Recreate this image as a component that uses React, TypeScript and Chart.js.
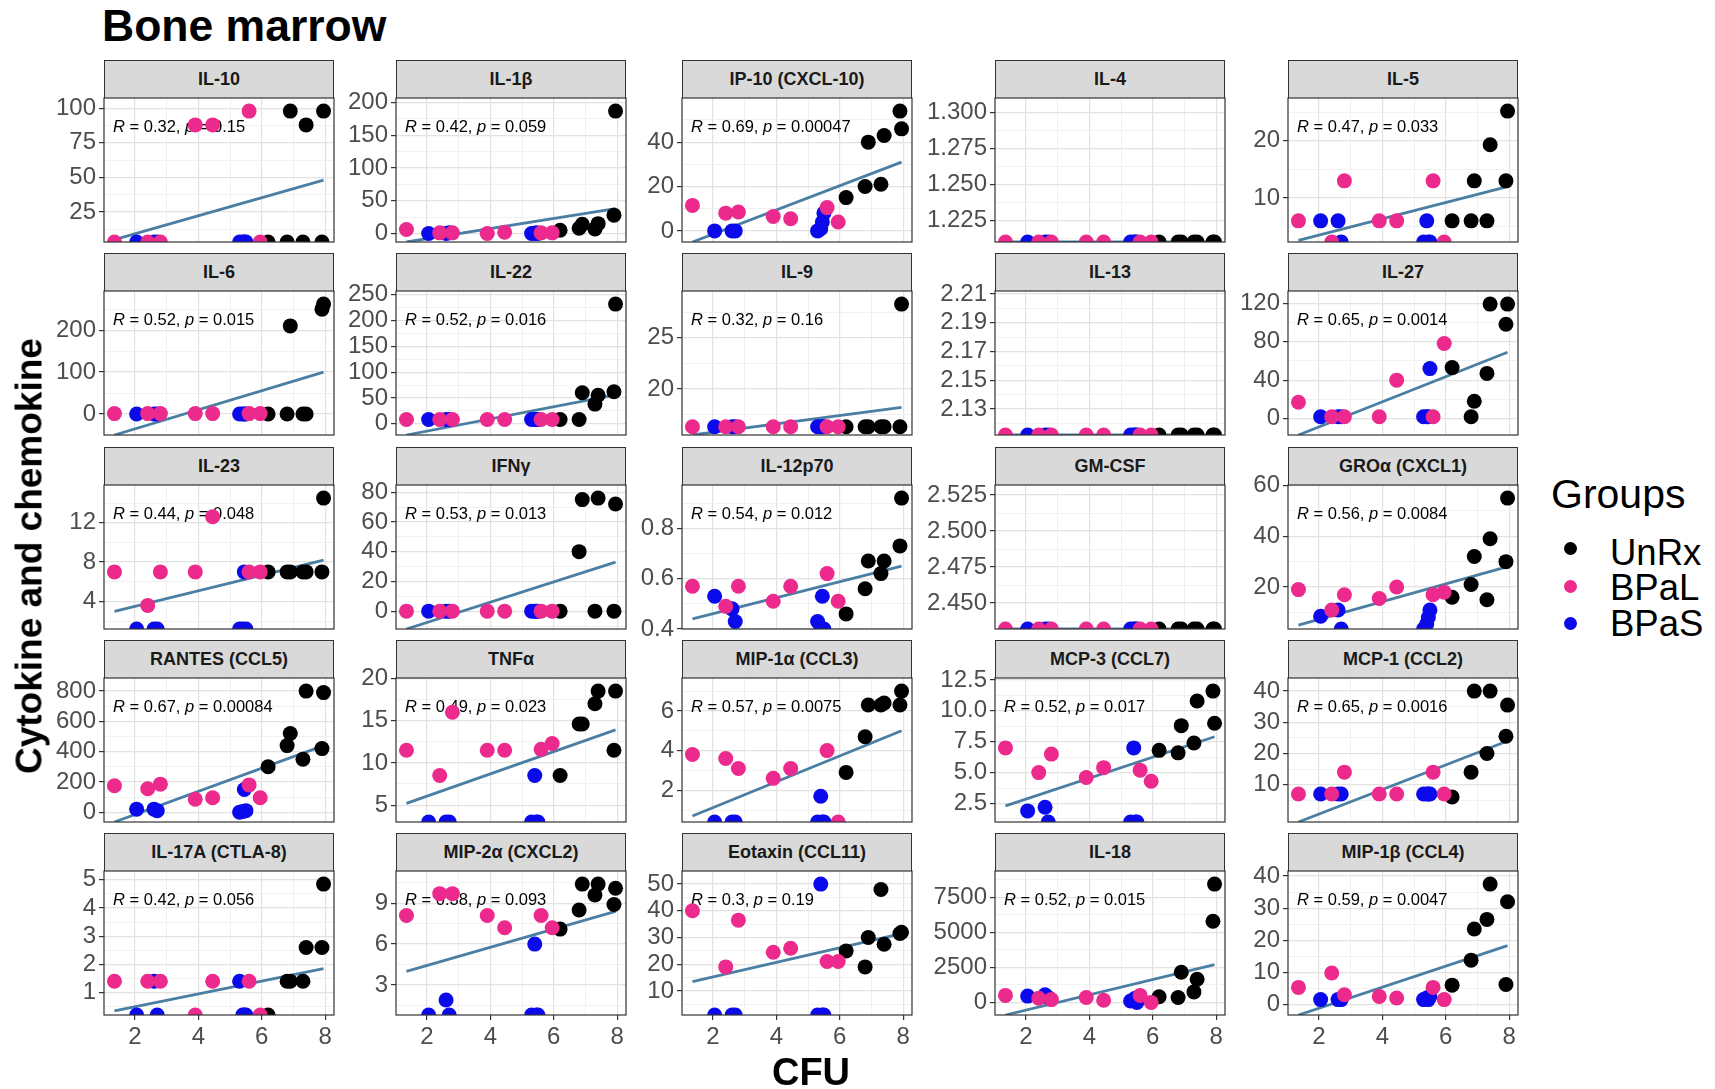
import React, { useEffect, useRef } from "react";
import { Chart, registerables } from "chart.js";

Chart.register(...registerables);

const FONT = '"Liberation Sans", Arial, Helvetica, sans-serif';

// Treatment groups and their colours
const groups = ["UnRx", "BPaL", "BPaS"];
const groupColors = ["#000000", "#EC2A8D", "#0A0AEB"];
const FIT_COLOR = "#4A7FA3";

// Bone-marrow CFU of each animal, per group (same animals in every panel)
const cfuUnRx = [6.2, 6.8, 6.9, 7.3, 7.4, 7.9, 7.95];
const cfuBPaL = [1.35, 2.4, 2.8, 3.9, 4.45, 5.6, 5.95];
const cfuBPaS = [2.05, 2.6, 2.7, 5.3, 5.4, 5.45, 5.5];

const analytes = [
  "IL-10", "IL-1β", "IP-10 (CXCL-10)", "IL-4", "IL-5",
  "IL-6", "IL-22", "IL-9", "IL-13", "IL-27",
  "IL-23", "IFNγ", "IL-12p70", "GM-CSF", "GROα (CXCL1)",
  "RANTES (CCL5)", "TNFα", "MIP-1α (CCL3)", "MCP-3 (CCL7)", "MCP-1 (CCL2)",
  "IL-17A (CTLA-8)", "MIP-2α (CXCL2)", "Eotaxin (CCL11)", "IL-18", "MIP-1β (CCL4)",
];

// Cytokine level per animal, one row per analyte, ordered like the cfu arrays
const unRxValues = [
  [3.2, 3.2, 98, 3.2, 88, 3.2, 98],
  [5, 8, 14, 7, 15, 28, 187],
  [15, 20, 40, 21, 43, 54, 46],
  [1.21, 1.21, 1.21, 1.21, 1.21, 1.21, 1.21],
  [6, 6, 13, 6, 19.3, 13, 25.2],
  [0, 0, 210, 0, 0, 250, 262],
  [8, 8, 60, 38, 55, 62, 232],
  [16.3, 16.3, 16.3, 16.3, 16.3, 16.3, 28.3],
  [2.112, 2.112, 2.112, 2.112, 2.112, 2.112, 2.112],
  [53, 2, 18, 47, 119, 98, 119],
  [7, 7, 7, 7, 7, 7, 14.5],
  [0, 40, 75, 0, 76, 0, 72],
  [0.46, 0.56, 0.67, 0.62, 0.67, 0.73, 0.92],
  [2.432, 2.432, 2.432, 2.432, 2.432, 2.432, 2.432],
  [16, 21, 32, 15, 39, 30, 55],
  [300, 440, 520, 350, 800, 420, 790],
  [8.5, 14.6, 14.6, 17, 18.5, 11.5, 18.5],
  [2.9, 4.7, 6.3, 6.3, 6.4, 6.3, 7.0],
  [6.8, 6.6, 8.8, 7.4, 10.8, 11.6, 9.0],
  [6, 14, 40, 20, 40, 25.5, 35.5],
  [0.2, 1.4, 1.4, 1.4, 2.6, 2.6, 4.85],
  [7.1, 8.5, 10.4, 9.6, 10.4, 8.9, 10.1],
  [25, 19, 30, 48, 27.5, 31.5, 32],
  [400, 350, 2150, 750, 1650, 5800, 8450],
  [6, 13.8, 23.5, 26.5, 37.5, 6.2, 32],
];

const bpalValues = [
  [3.2, 3.2, 3.2, 88, 88, 98, 3.2],
  [6, 1, 1, 0, 2, 1, 1],
  [11.5, 8, 8.5, 6.5, 5.5, 10.5, 4],
  [1.21, 1.21, 1.21, 1.21, 1.21, 1.21, 1.21],
  [6, 2.3, 13, 6, 6, 13, 2.3],
  [1, 1, 1, 1, 1, 1, 1],
  [8, 8, 8, 8, 8, 8, 8],
  [16.3, 16.3, 16.3, 16.3, 16.3, 16.3, 16.3],
  [2.112, 2.112, 2.112, 2.112, 2.112, 2.112, 2.112],
  [17, 2, 2, 2, 40, 2, 78],
  [7, 3.6, 7, 7, 12.6, 7, 7],
  [0, 0, 0, 0, 0, 0, 0],
  [0.57, 0.49, 0.57, 0.51, 0.57, 0.62, 0.51],
  [2.432, 2.432, 2.432, 2.432, 2.432, 2.432, 2.432],
  [19, 11, 17, 15.5, 20, 17, 18],
  [175, 155, 185, 85, 95, 180, 95],
  [11.5, 8.5, 16, 11.5, 11.5, 11.6, 12.3],
  [3.8, 3.6, 3.1, 2.6, 3.1, 4.0, 0.4],
  [7.0, 5.0, 6.5, 4.6, 5.4, 5.2, 4.3],
  [7, 7, 14, 7, 7, 14, 7],
  [1.4, 1.4, 1.4, 0.2, 1.4, 1.4, 0.2],
  [8.1, 9.7, 9.7, 8.1, 7.2, 8.1, 7.2],
  [40, 19, 36.5, 24.5, 26, 21, 21],
  [500, 300, 200, 350, 150, 500, 0],
  [5.3, 9.8, 3, 2.5, 2, 5.3, 1.5],
];

const bpasValues = [
  [3.2, 3.2, 3.2, 3.2, 3.2, 3.2, 3.2],
  [0, 0, 1, 0, 0, 1, 0],
  [0, 0, 0, 0, 1, 4, 8],
  [1.21, 1.21, 1.21, 1.21, 1.21, 1.21, 1.21],
  [6, 6, 2.3, 2.3, 6, 2.3, 2.3],
  [0, 0, 0, 0, 0, 0, 0],
  [8, 8, 8, 8, 8, 8, 8],
  [16.3, 16.3, 16.3, 16.3, 16.3, 16.3, 16.3],
  [2.112, 2.112, 2.112, 2.112, 2.112, 2.112, 2.112],
  [2, 2, 2, 2, 2, 2, 52],
  [1.2, 1.2, 1.2, 1.2, 1.2, 7, 1.2],
  [0, 0, 0, 0, 0, 0, 0],
  [0.53, 0.48, 0.43, 0.43, 0.4, 0.53, 0.4],
  [2.432, 2.432, 2.432, 2.432, 2.432, 2.432, 2.432],
  [8.5, 11, 3.5, 3.5, 5.5, 8, 11],
  [20, 20, 10, 0, 5, 150, 10],
  [3, 3, 3, 3, 8.5, 3, 3],
  [0.4, 0.4, 0.4, 0.4, 1.7, 0.4, 0.4],
  [1.9, 2.2, 1.0, 1.0, 7.0, 1.0, 1.0],
  [7, 7, 7, 7, 7, 7, 7],
  [0.2, 1.4, 0.2, 1.4, 0.2, 0.2, 0.2],
  [0.8, 1.9, 0.8, 0.8, 6.0, 0.8, 0.8],
  [1, 1, 1, 1, 50, 1, 1],
  [450, 550, 350, 100, 200, 300, 0],
  [1.5, 1.5, 1.5, 1.5, 2, 1.5, 2.5],
];

// Linear fit evaluated at the lowest and highest CFU
const fitAtLowCfu = [4.9, -13, -5, 1.21, 2.6, -50, -22, 15.5, 2.112, -17, 3.0, -12, 0.44, 2.432, 5, -65, 5.2, 0.7, 2.3, -2, 0.35, 4.0, 13.5, -900, -3.3];
const fitAtHighCfu = [48, 38, 31, 1.21, 12, 100, 56, 18.2, 2.112, 69, 8.2, 33, 0.65, 2.432, 28, 440, 13.9, 5.0, 7.9, 24, 1.85, 8.4, 31.5, 2700, 18.3];

// Pearson correlation annotations
const corrR = ["0.32", "0.42", "0.69", "", "0.47", "0.52", "0.52", "0.32", "", "0.65", "0.44", "0.53", "0.54", "", "0.56", "0.67", "0.49", "0.57", "0.52", "0.65", "0.42", "0.38", "0.3", "0.52", "0.59"];
const corrP = ["0.15", "0.059", "0.00047", "", "0.033", "0.015", "0.016", "0.16", "", "0.0014", "0.048", "0.013", "0.012", "", "0.0084", "0.00084", "0.023", "0.0075", "0.017", "0.0016", "0.056", "0.093", "0.19", "0.015", "0.0047"];

// Y tick labels for each panel
const yTickLabels = [
  ["25", "50", "75", "100"],
  ["0", "50", "100", "150", "200"],
  ["0", "20", "40"],
  ["1.225", "1.250", "1.275", "1.300"],
  ["10", "20"],
  ["0", "100", "200"],
  ["0", "50", "100", "150", "200", "250"],
  ["20", "25"],
  ["2.13", "2.15", "2.17", "2.19", "2.21"],
  ["0", "40", "80", "120"],
  ["4", "8", "12"],
  ["0", "20", "40", "60", "80"],
  ["0.4", "0.6", "0.8"],
  ["2.450", "2.475", "2.500", "2.525"],
  ["20", "40", "60"],
  ["0", "200", "400", "600", "800"],
  ["5", "10", "15", "20"],
  ["2", "4", "6"],
  ["2.5", "5.0", "7.5", "10.0", "12.5"],
  ["10", "20", "30", "40"],
  ["1", "2", "3", "4", "5"],
  ["3", "6", "9"],
  ["10", "20", "30", "40", "50"],
  ["0", "2500", "5000", "7500"],
  ["0", "10", "20", "30", "40"],
];
const xTickLabels = ["2", "4", "6", "8"];

// Facet geometry (px)
const COL_LEFT = [104, 396, 682, 995, 1288];
const STRIP_TOP = [60, 253, 447, 640, 833];
const PANEL_W = 230;
const PANEL_H = 144;
const STRIP_H = 38;
const AXIS_W = 80;
const PAD_T = 16;
const PAD_B = 16;
const PAD_R = 14;
const X_AXIS_H = 48;
const TICK_FONT = 24;
const GRID_MAJOR = "#E2E2E2";
const GRID_MINOR = "#EDEDED";

function yLimits(i: number): [number, number] {
  const vals = [...unRxValues[i], ...bpalValues[i], ...bpasValues[i], fitAtLowCfu[i], fitAtHighCfu[i]];
  const lo = Math.min(...vals);
  const hi = Math.max(...vals);
  if (hi - lo < 1e-9) return [lo, lo + 0.1];
  return [lo, hi + 0.1 * (hi - lo)];
}

function withMinor(majors: number[], lo: number, hi: number): number[] {
  const step = majors[1] - majors[0];
  const all = [...majors];
  for (let k = -1; k <= majors.length; k++) all.push(majors[0] + (k + 0.5) * step);
  const eps = (hi - lo) * 1e-6;
  return all.filter((v) => v >= lo - eps && v <= hi + eps).sort((a, b) => a - b);
}

function Panel({ index }: { index: number }) {
  const canvasRef = useRef<HTMLCanvasElement | null>(null);
  const row = Math.floor(index / 5);
  const col = index % 5;
  const bottomRow = row === 4;
  const canvasW = AXIS_W + PANEL_W + PAD_R;
  const canvasH = PAD_T + PANEL_H + (bottomRow ? X_AXIS_H : PAD_B);

  useEffect(() => {
    const canvas = canvasRef.current;
    if (!canvas) return;

    const allCfu = [...cfuUnRx, ...cfuBPaL, ...cfuBPaS];
    const xLo = Math.min(...allCfu);
    const xHi = Math.max(...allCfu);
    const xPad = 0.05 * (xHi - xLo);
    const xMin = xLo - xPad;
    const xMax = xHi + xPad;
    const xMajors = xTickLabels.map(Number);
    const xMajorSet = new Set(xMajors);
    const xTicks = withMinor(xMajors, xMin, xMax);

    const [yMin, yMax] = yLimits(index);
    const yMajors = yTickLabels[index].map(Number);
    const yLabelOf = new Map<number, string>(yMajors.map((v, k) => [v, yTickLabels[index][k]]));
    const yTicks = withMinor(yMajors, yMin, yMax);

    const series = [
      { vals: bpalValues[index], cfu: cfuBPaL, color: groupColors[1] },
      { vals: bpasValues[index], cfu: cfuBPaS, color: groupColors[2] },
      { vals: unRxValues[index], cfu: cfuUnRx, color: groupColors[0] },
    ];
    const datasets: any[] = series.map((s) => ({
      data: s.cfu.map((x, k) => ({ x, y: s.vals[k] })),
      backgroundColor: s.color,
      borderColor: s.color,
      pointRadius: 7.5,
      pointHoverRadius: 7.5,
      pointBorderWidth: 0,
      showLine: false,
      clip: 0,
    }));
    datasets.push({
      data: [
        { x: xLo, y: fitAtLowCfu[index] },
        { x: xHi, y: fitAtHighCfu[index] },
      ],
      showLine: true,
      borderColor: FIT_COLOR,
      borderWidth: 2.8,
      pointRadius: 0,
      pointHoverRadius: 0,
      clip: 0,
    });

    const corrLabel = {
      id: "corrLabel",
      beforeDatasetsDraw(chart: any) {
        if (!corrR[index]) return;
        const { ctx, chartArea } = chart;
        ctx.save();
        ctx.fillStyle = "#000";
        ctx.textBaseline = "middle";
        let x = chartArea.left + 9;
        const y = chartArea.top + 29;
        const parts: [string, boolean][] = [
          ["R", true],
          [" = " + corrR[index] + ", ", false],
          ["p", true],
          [" = " + corrP[index], false],
        ];
        for (const [t, italic] of parts) {
          ctx.font = `${italic ? "italic " : ""}16.5px ${FONT}`;
          ctx.fillText(t, x, y);
          x += ctx.measureText(t).width;
        }
        ctx.restore();
      },
    };
    const panelBorder = {
      id: "panelBorder",
      afterDraw(chart: any) {
        const { ctx, chartArea } = chart;
        ctx.save();
        ctx.strokeStyle = "#333333";
        ctx.lineWidth = 1.2;
        ctx.strokeRect(chartArea.left, chartArea.top, chartArea.right - chartArea.left, chartArea.bottom - chartArea.top);
        ctx.restore();
      },
    };

    const chart = new Chart(canvas, {
      type: "scatter",
      data: { datasets },
      options: {
        responsive: false,
        animation: false,
        events: [],
        layout: { padding: { left: 0, top: PAD_T, right: PAD_R, bottom: bottomRow ? 0 : PAD_B } },
        plugins: { legend: { display: false }, tooltip: { enabled: false } },
        scales: {
          x: {
            type: "linear",
            min: xMin,
            max: xMax,
            afterBuildTicks: (s: any) => {
              s.ticks = xTicks.map((v) => ({ value: v }));
            },
            afterFit: (s: any) => {
              s.height = bottomRow ? X_AXIS_H : 0;
              s.paddingLeft = 0;
              s.paddingRight = 0;
              s.paddingTop = 0;
              s.paddingBottom = 0;
            },
            border: { display: false },
            grid: {
              color: (c: any) => (c.tick && xMajorSet.has(c.tick.value) ? GRID_MAJOR : GRID_MINOR),
              lineWidth: (c: any) => (c.tick && xMajorSet.has(c.tick.value) ? 1.2 : 0.8),
              drawTicks: bottomRow,
              tickLength: 5,
              tickWidth: 1.2,
              tickColor: (c: any) => (c.tick && xMajorSet.has(c.tick.value) ? "#333333" : "rgba(0,0,0,0)"),
            },
            ticks: {
              display: bottomRow,
              autoSkip: false,
              maxRotation: 0,
              padding: 3,
              color: "#4D4D4D",
              font: { size: TICK_FONT, family: FONT },
              callback: (v: any) => (xMajorSet.has(v) ? String(v) : ""),
            },
          },
          y: {
            type: "linear",
            min: yMin,
            max: yMax,
            afterBuildTicks: (s: any) => {
              s.ticks = yTicks.map((v) => ({ value: v }));
            },
            afterFit: (s: any) => {
              s.width = AXIS_W;
              s.paddingLeft = 0;
              s.paddingRight = 0;
              s.paddingTop = 0;
              s.paddingBottom = 0;
            },
            border: { display: false },
            grid: {
              color: (c: any) => (c.tick && yLabelOf.has(c.tick.value) ? GRID_MAJOR : GRID_MINOR),
              lineWidth: (c: any) => (c.tick && yLabelOf.has(c.tick.value) ? 1.2 : 0.8),
              drawTicks: true,
              tickLength: 5,
              tickWidth: 1.2,
              tickColor: (c: any) => (c.tick && yLabelOf.has(c.tick.value) ? "#333333" : "rgba(0,0,0,0)"),
            },
            ticks: {
              autoSkip: false,
              padding: 3,
              color: "#4D4D4D",
              font: { size: TICK_FONT, family: FONT },
              callback: (v: any) => yLabelOf.get(v) ?? "",
            },
          },
        },
      },
      plugins: [corrLabel, panelBorder],
    } as any);
    return () => chart.destroy();
  }, [index, bottomRow]);

  const panelTop = STRIP_TOP[row] + STRIP_H;
  return (
    <>
      <div
        style={{
          position: "absolute",
          left: COL_LEFT[col],
          top: STRIP_TOP[row],
          width: PANEL_W,
          height: STRIP_H,
          boxSizing: "border-box",
          borderTop: "1.2px solid #333",
          borderLeft: "1.2px solid #333",
          borderRight: "1.2px solid #333",
          background: "#D9D9D9",
          display: "flex",
          alignItems: "center",
          justifyContent: "center",
          font: `bold 18px ${FONT}`,
          color: "#1A1A1A",
          whiteSpace: "nowrap",
        }}
      >
        {analytes[index]}
      </div>
      <canvas
        ref={canvasRef}
        width={canvasW}
        height={canvasH}
        style={{
          position: "absolute",
          left: COL_LEFT[col] - AXIS_W,
          top: panelTop - PAD_T,
          width: canvasW,
          height: canvasH,
        }}
      />
    </>
  );
}

const legendRows = [
  { dotY: 548, baseline: 566 },
  { dotY: 586, baseline: 601 },
  { dotY: 623, baseline: 637 },
];

export default function App() {
  return (
    <div
      style={{
        position: "absolute",
        left: 0,
        top: 0,
        width: 1715,
        height: 1089,
        overflow: "hidden",
        background: "#ffffff",
        fontFamily: FONT,
      }}
    >
      <div style={{ position: "absolute", left: 102, top: 4, font: `bold 44.5px ${FONT}`, lineHeight: "44.5px", color: "#000", whiteSpace: "nowrap" }}>
        Bone marrow
      </div>

      {analytes.map((_, i) => (
        <Panel key={i} index={i} />
      ))}

      <div
        style={{
          position: "absolute",
          left: 29,
          top: 556,
          transform: "translate(-50%, -50%) rotate(-90deg)",
          font: `bold 37px ${FONT}`,
          lineHeight: "37px",
          color: "#000",
          whiteSpace: "nowrap",
        }}
      >
        Cytokine and chemokine
      </div>

      <div
        style={{
          position: "absolute",
          left: 811,
          top: 1053,
          transform: "translateX(-50%)",
          font: `bold 38px ${FONT}`,
          lineHeight: "38px",
          color: "#000",
          whiteSpace: "nowrap",
        }}
      >
        CFU
      </div>

      <div style={{ position: "absolute", left: 1551, top: 474, font: `41px ${FONT}`, lineHeight: "41px", color: "#000", whiteSpace: "nowrap" }}>
        Groups
      </div>
      {groups.map((g, k) => (
        <React.Fragment key={g}>
          <div
            style={{
              position: "absolute",
              left: 1570 - 6.5,
              top: legendRows[k].dotY - 6.5,
              width: 13,
              height: 13,
              borderRadius: "50%",
              background: groupColors[k],
            }}
          />
          <div
            style={{
              position: "absolute",
              left: 1610,
              top: legendRows[k].baseline - 30.9,
              font: `36.5px ${FONT}`,
              lineHeight: "36.5px",
              color: "#000",
              whiteSpace: "nowrap",
            }}
          >
            {g}
          </div>
        </React.Fragment>
      ))}
    </div>
  );
}
